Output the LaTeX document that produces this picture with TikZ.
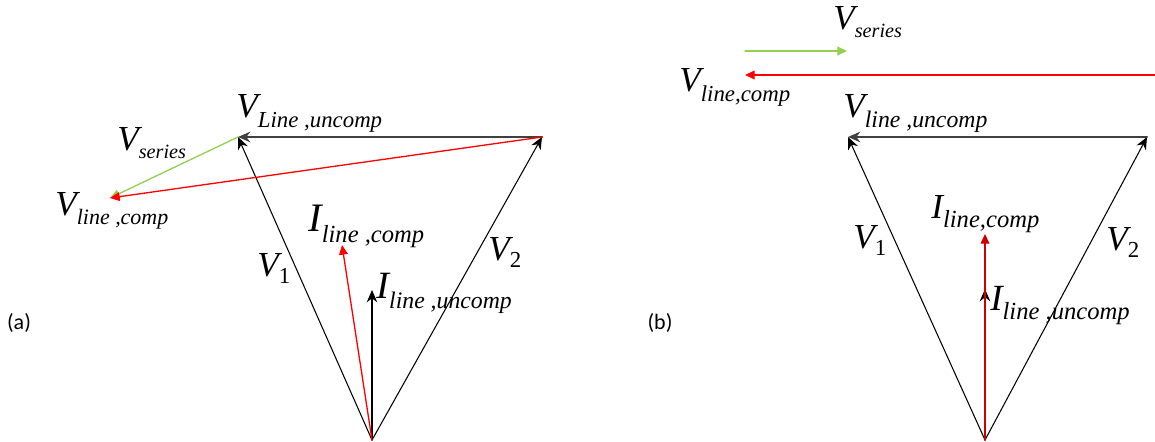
\documentclass[tikz,border=0pt]{standalone}
\usepackage{fontspec}
\setmainfont{Liberation Serif}
\newfontfamily\panelfont{Carlito}
\usetikzlibrary{arrows.meta}

% phasor label: big italic letter, lowered subscript
\newcommand{\phasor}[5]{{\fontsize{#1}{#1}\selectfont\itshape #3}%
  \raisebox{-#5}{\fontsize{#2}{#2}\selectfont\itshape #4}}

\begin{document}
\begin{tikzpicture}[x=0.02cm, y=-0.02cm, line cap=round,
  >={Stealth[length=7pt, width=6pt]},
  vec/.style={->, black, line width=0.6pt},
  vline/.style={->, black!75, line width=1.2pt},
  vser/.style={-{Triangle[length=5.5pt, width=5pt]}, serG, line width=0.75pt},
  vcomp/.style={-{Triangle[length=5.5pt, width=5pt]}, compR, line width=0.75pt},
  lab/.style={inner sep=0pt, anchor=base west},
  panel/.style={inner sep=0pt, font=\panelfont\fontsize{12.5}{13}\selectfont}]
\definecolor{serG}{RGB}{146,208,80}
\colorlet{compR}{red}
\useasboundingbox (0,0) rectangle (1155,442);
% ---- (a) points ----
\coordinate (Oa) at (372,440);
\coordinate (La) at (238,137);
\coordinate (Ra) at (542,137);
\coordinate (Ca) at (110,198);
\coordinate (IUa) at (372,290);
\coordinate (ICa) at (342,245);
% ---- (a) vectors ----
\draw[vec] (Oa) -- (La);
\draw[vec] (Oa) -- (Ra);
\draw[vline] (Ra) -- (La);
\draw[vser] (La) -- (Ca);
\draw[vcomp] (Ra) -- (Ca);
\draw[vec] (Oa) -- (IUa);
\draw[vcomp] (Oa) -- (ICa);
% ---- (a) labels ----
\node[lab] (vlua) at (236,118) {\phasor{20}{13}{V}{Line ,uncomp}{5.5pt}};
\node[lab] (vsera) at (117,151) {\phasor{20}{11.5}{V}{series}{4.5pt}};
\node[lab] (vlca) at (55,215) {\phasor{20}{12.5}{V}{line ,comp}{5.5pt}};
\node[lab] (v1a) at (257,276) {\phasor{20}{13}{V}{\upshape 1}{4.5pt}};
\node[lab] (v2a) at (488,260) {\phasor{20}{13}{V}{\upshape 2}{4.5pt}};
\node[lab] (ilca) at (308,232) {\phasor{23}{14}{I}{line ,comp}{6pt}};
\node[lab] (ilua) at (376,298) {\phasor{22}{13.5}{I}{line ,uncomp}{6pt}};
\node[panel] (pa) at (19,323) {(a)};
% ---- (b) points ----
\coordinate (Ob) at (985,440);
\coordinate (Lb) at (848,137);
\coordinate (Rb) at (1147,137);
\coordinate (Sb0) at (745,51);
\coordinate (Sb1) at (847,51);
\coordinate (Cb0) at (1155,75);
\coordinate (Cb1) at (745,75);
\coordinate (IUb) at (985,289);
\coordinate (ICb) at (985,234);
% ---- (b) vectors ----
\draw[vec] (Ob) -- (Lb);
\draw[vec] (Ob) -- (Rb);
\draw[vline] (Rb) -- (Lb);
\draw[vser] (Sb0) -- (Sb1);
\draw[vcomp] (Cb0) -- (Cb1);
\draw[vec] (Ob) -- (IUb);
\draw[vcomp, compR!80!black] (Ob) -- (ICb);
% ---- (b) labels ----
\node[lab] (vserb) at (833,30) {\phasor{20}{11.5}{V}{series}{4.5pt}};
\node[lab] (vlcb) at (679,92) {\phasor{20}{13}{V}{line,comp}{5.5pt}};
\node[lab] (vlub) at (843,118) {\phasor{20}{13.5}{V}{line ,uncomp}{5.5pt}};
\node[lab] (v1b) at (853,248) {\phasor{20}{13}{V}{\upshape 1}{4.5pt}};
\node[lab] (v2b) at (1106,250) {\phasor{20}{13}{V}{\upshape 2}{4.5pt}};
\node[lab] (ilcb) at (931,218) {\phasor{20}{14}{I}{line,comp}{5.5pt}};
\node[lab] (ilub) at (990,310) {\phasor{21}{14}{I}{line ,uncomp}{5.5pt}};
\node[panel] (pb) at (660,323) {(b)};
\end{tikzpicture}
\end{document}
